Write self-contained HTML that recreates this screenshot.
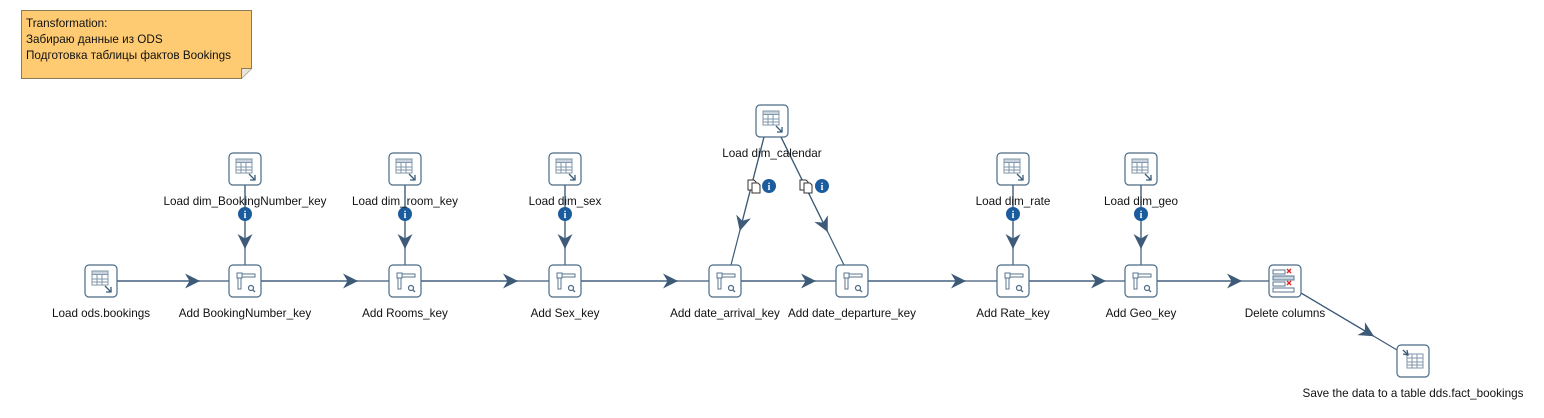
<!DOCTYPE html>
<html><head><meta charset="utf-8"><style>
html,body{margin:0;padding:0;background:#fff;width:1544px;height:418px;overflow:hidden}
svg text{font-family:"Liberation Sans","Noto Sans CJK SC",sans-serif;font-size:11.7px;fill:#111}
</style></head><body>
<svg width="1544" height="418" viewBox="0 0 1544 418" xmlns="http://www.w3.org/2000/svg">
<defs>
  <g id="box"><rect x="-16" y="-16" width="32" height="32" rx="4" fill="#fff" stroke="#4a6a86" stroke-width="1.2"/></g>
  <g id="tin">
    <use href="#box"/>
    <rect x="-9" y="-10" width="16" height="14" fill="#fff" stroke="#7f96ab"/>
    <rect x="-9" y="-10" width="16" height="3.5" fill="#c9d4de" stroke="#7f96ab"/>
    <line x1="-9" y1="-2" x2="7" y2="-2" stroke="#7f96ab"/>
    <line x1="-9" y1="1" x2="7" y2="1" stroke="#7f96ab"/>
    <line x1="-4" y1="-6.5" x2="-4" y2="4" stroke="#7f96ab"/>
    <line x1="1" y1="-6.5" x2="1" y2="4" stroke="#7f96ab"/>
    <path d="M4 5 L10 11 M10 6 L10 11 L5 11" stroke="#3c5a78" stroke-width="1.3" fill="none"/>
  </g>
  <g id="tout">
    <use href="#box"/>
    <rect x="-6" y="-7" width="16" height="14" fill="#fff" stroke="#7f96ab"/>
    <line x1="-6" y1="-3" x2="10" y2="-3" stroke="#7f96ab"/>
    <line x1="-6" y1="1" x2="10" y2="1" stroke="#7f96ab"/>
    <line x1="-6" y1="4" x2="10" y2="4" stroke="#7f96ab"/>
    <line x1="-1" y1="-7" x2="-1" y2="7" stroke="#7f96ab"/>
    <line x1="4" y1="-7" x2="4" y2="7" stroke="#7f96ab"/>
    <path d="M-10 -11 L-5 -6 M-10 -7 L-5 -6 L-6 -11" stroke="#3c5a78" stroke-width="1.3" fill="none"/>
  </g>
  <g id="look">
    <use href="#box"/>
    <rect x="-8" y="-8" width="5" height="5" fill="#fff" stroke="#5a7590"/>
    <rect x="-3" y="-7" width="13" height="3" fill="#fff" stroke="#5a7590"/>
    <rect x="-7" y="-3" width="3" height="11" fill="#fff" stroke="#5a7590"/>
    <circle cx="6" cy="7" r="2.5" fill="none" stroke="#4a6a86" stroke-width="1.2"/>
    <line x1="8" y1="9" x2="10" y2="11" stroke="#4a6a86" stroke-width="1.3"/>
  </g>
  <g id="del">
    <use href="#box"/>
    <rect x="-12" y="-11" width="12" height="4" fill="#fff" stroke="#5a7590"/>
    <rect x="-12" y="-5" width="21" height="4" fill="#c9d4de" stroke="#5a7590"/>
    <rect x="-12" y="1" width="12" height="4" fill="#fff" stroke="#5a7590"/>
    <rect x="-12" y="7" width="21" height="4" fill="#fff" stroke="#5a7590"/>
    <path d="M2 -12 L6 -8 M6 -12 L2 -8 M2 0 L6 4 M6 0 L2 4" stroke="#e02020" stroke-width="1.4"/>
  </g>
  <g id="info"><circle r="7" fill="#1a5c9e"/><text x="0" y="4" text-anchor="middle" style="font-size:10px;font-weight:bold;fill:#fff;font-family:'Liberation Serif',serif">i</text></g>
  <g id="copy"><path d="M-7 -6 h6 l2 2 v8 h-8 z" fill="#fff" stroke="#333"/><path d="M-3 -3 h6 l2 2 v8 h-8 z" fill="#fff" stroke="#333"/></g>
  <marker id="ah" viewBox="0 0 10 10" refX="10" refY="5" markerWidth="15" markerHeight="15" markerUnits="userSpaceOnUse" orient="auto"><path d="M0 0 L10 5 L0 10 L3 5 z" fill="#3d5a78"/></marker>
</defs>

<path d="M21.5 10.5 H251.5 V68.5 L241.5 78.5 H21.5 Z" fill="#fecb72" stroke="#8a7a5a"/>
<path d="M241.5 78.5 L241.5 68.5 L251.5 68.5" fill="#e8e4dc" stroke="#8a7a5a"/>
<text x="26" y="27">Transformation:</text>
<text x="26" y="43">Забираю данные из ODS</text>
<text x="26" y="59">Подготовка таблицы фактов Bookings</text>

<g stroke="#3d5a78" stroke-width="1.2" fill="none">
  <line x1="117" y1="281" x2="229" y2="281"/><line x1="117" y1="281" x2="200" y2="281" marker-end="url(#ah)"/>
  <line x1="261" y1="281" x2="389" y2="281"/><line x1="261" y1="281" x2="358" y2="281" marker-end="url(#ah)"/>
  <line x1="421" y1="281" x2="549" y2="281"/><line x1="421" y1="281" x2="518" y2="281" marker-end="url(#ah)"/>
  <line x1="581" y1="281" x2="709" y2="281"/><line x1="581" y1="281" x2="678" y2="281" marker-end="url(#ah)"/>
  <line x1="741" y1="281" x2="836" y2="281"/><line x1="741" y1="281" x2="816" y2="281" marker-end="url(#ah)"/>
  <line x1="868" y1="281" x2="997" y2="281"/><line x1="868" y1="281" x2="966" y2="281" marker-end="url(#ah)"/>
  <line x1="1029" y1="281" x2="1125" y2="281"/><line x1="1029" y1="281" x2="1106" y2="281" marker-end="url(#ah)"/>
  <line x1="1157" y1="281" x2="1269" y2="281"/><line x1="1157" y1="281" x2="1242" y2="281" marker-end="url(#ah)"/>
  <line x1="245" y1="185" x2="245" y2="265"/><line x1="245" y1="185" x2="245" y2="249" marker-end="url(#ah)"/>
  <line x1="405" y1="185" x2="405" y2="265"/><line x1="405" y1="185" x2="405" y2="249" marker-end="url(#ah)"/>
  <line x1="565" y1="185" x2="565" y2="265"/><line x1="565" y1="185" x2="565" y2="249" marker-end="url(#ah)"/>
  <line x1="1013" y1="185" x2="1013" y2="265"/><line x1="1013" y1="185" x2="1013" y2="249" marker-end="url(#ah)"/>
  <line x1="1141" y1="185" x2="1141" y2="265"/><line x1="1141" y1="185" x2="1141" y2="249" marker-end="url(#ah)"/>
  <line x1="764" y1="137" x2="731" y2="265"/><line x1="764" y1="137" x2="739.8" y2="231" marker-end="url(#ah)"/>
  <line x1="781" y1="137" x2="844" y2="265"/><line x1="781" y1="137" x2="827.7" y2="232" marker-end="url(#ah)"/>
  <line x1="1301" y1="293" x2="1397" y2="350"/><line x1="1301" y1="293" x2="1374" y2="336.3" marker-end="url(#ah)"/>
</g>

<use href="#tin" x="101" y="281"/>
<use href="#look" x="245" y="281"/>
<use href="#look" x="405" y="281"/>
<use href="#look" x="565" y="281"/>
<use href="#look" x="725" y="281"/>
<use href="#look" x="852" y="281"/>
<use href="#look" x="1013" y="281"/>
<use href="#look" x="1141" y="281"/>
<use href="#del" x="1285" y="281"/>
<use href="#tout" x="1413" y="361"/>
<use href="#tin" x="245" y="169"/>
<use href="#tin" x="405" y="169"/>
<use href="#tin" x="565" y="169"/>
<use href="#tin" x="1013" y="169"/>
<use href="#tin" x="1141" y="169"/>
<use href="#tin" x="772" y="121"/>

<use href="#info" x="245" y="214"/>
<use href="#info" x="405" y="214"/>
<use href="#info" x="565" y="214"/>
<use href="#info" x="1013" y="214"/>
<use href="#info" x="1141" y="214"/>
<use href="#copy" x="755" y="186"/>
<use href="#info" x="769" y="186"/>
<use href="#copy" x="807" y="186"/>
<use href="#info" x="822" y="186"/>

<g text-anchor="middle">
<text x="101" y="317">Load ods.bookings</text>
<text x="245" y="317">Add BookingNumber_key</text>
<text x="405" y="317">Add Rooms_key</text>
<text x="565" y="317">Add Sex_key</text>
<text x="725" y="317">Add date_arrival_key</text>
<text x="852" y="317">Add date_departure_key</text>
<text x="1013" y="317">Add Rate_key</text>
<text x="1141" y="317">Add Geo_key</text>
<text x="1285" y="317">Delete columns</text>
<text x="1413" y="397">Save the data to a table dds.fact_bookings</text>
<text x="245" y="205">Load dim_BookingNumber_key</text>
<text x="405" y="205">Load dim_room_key</text>
<text x="565" y="205">Load dim_sex</text>
<text x="1013" y="205">Load dim_rate</text>
<text x="1141" y="205">Load dim_geo</text>
<text x="772" y="157">Load dim_calendar</text>
</g>
</svg>
</body></html>
